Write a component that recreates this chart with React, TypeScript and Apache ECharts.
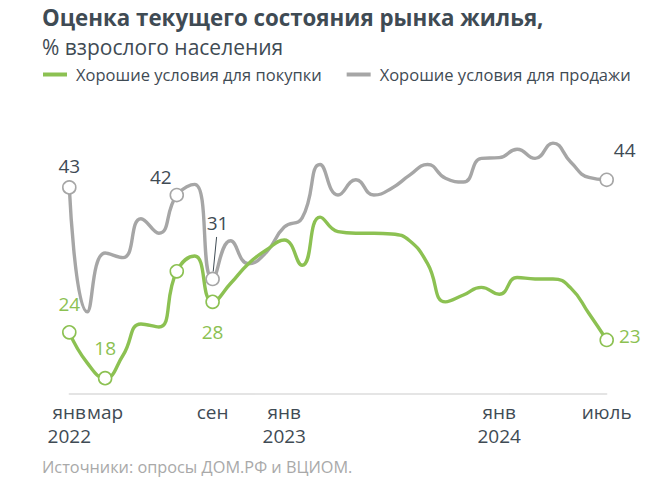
import React, { useEffect, useRef } from "react";
import * as echarts from "echarts";

const months = [
  "2022-01", "2022-02", "2022-03", "2022-04", "2022-05", "2022-06", "2022-07", "2022-08",
  "2022-09", "2022-10", "2022-11", "2022-12", "2023-01", "2023-02", "2023-03", "2023-04",
  "2023-05", "2023-06", "2023-07", "2023-08", "2023-09", "2023-10", "2023-11", "2023-12",
  "2024-01", "2024-02", "2024-03", "2024-04", "2024-05", "2024-06", "2024-07",
];

const tickLabels: Record<string, string> = {
  "2022-01": "янв\n2022",
  "2022-03": "мар",
  "2022-09": "сен",
  "2023-01": "янв\n2023",
  "2024-01": "янв\n2024",
  "2024-07": "июль",
};

const buyName = "Хорошие условия для покупки";
const sellName = "Хорошие условия для продажи";

const buyValues = [
  24, 20, 18, 21.0, 25.1, 24.7, 32, 34, 28, 30.4, 33.0, 34.8, 36.1, 32.8, 39.1, 37.2,
  37.0, 37.0, 36.9, 36.0, 33.0, 28.0, 28.9, 29.9, 29.0, 31.2, 31.0, 31.0, 29.8, 26.5, 23,
];

const sellValues = [
  43, 26.7, 34.4, 33.8, 38.9, 37.0, 42, 43.4, 31, 36, 33, 34.5, 37.8, 39, 46, 42,
  44, 42, 42.9, 44.6, 46, 44.2, 43.7, 46.8, 46.9, 48, 46.8, 48.8, 46.3, 44.3, 44,
];

// months with markers and labelled values
const buyMarked = ["2022-01", "2022-03", "2022-07", "2022-09", "2024-07"];
const buyLabelled = ["2022-01", "2022-03", "2022-09", "2024-07"];
const sellMarked = ["2022-01", "2022-07", "2022-09", "2024-07"];
const sellLabelled = ["2022-01", "2022-07", "2022-09", "2024-07"];

const GREEN = "#8cc152";
const GRAY = "#a6a6a6";
const DARK = "#3f4b54";
const FONT = "'Open Sans', 'Noto Sans', sans-serif";

const labelPlacement: Record<string, any> = {
  "buy-2022-01": { position: "top", offset: [0, -7] },
  "buy-2022-03": { position: "top", offset: [0, -8] },
  "buy-2022-09": { position: "bottom", offset: [0, 8] },
  "buy-2024-07": { position: "right", offset: [0, -4] },
  "sell-2022-01": { position: "top", offset: [0, 0] },
  "sell-2022-07": { position: "top", offset: [-16, 4] },
  "sell-2022-09": { position: "top", offset: [5, -34] },
  "sell-2024-07": { position: "top", offset: [18, -8] },
};

function buildData(key: string, values: number[], marked: string[], labelled: string[], color: string, labelColor: string) {
  return values.map((v, i) => {
    const m = months[i];
    if (!marked.includes(m)) return { value: v, symbol: "none" };
    const item: any = {
      value: v,
      symbol: "circle",
      symbolSize: 13,
      itemStyle: { color: "#ffffff", borderColor: color, borderWidth: 1.6 },
    };
    if (labelled.includes(m)) {
      const pl = labelPlacement[key + "-" + m] || { position: "top", offset: [0, 0] };
      item.label = {
        show: true,
        position: pl.position,
        offset: pl.offset,
        distance: 5,
        formatter: String(Math.round(v)),
        color: labelColor,
        fontSize: 19,
        fontFamily: FONT,
      };
    }
    return item;
  });
}

export default function App() {
  const ref = useRef<HTMLDivElement>(null);
  useEffect(() => {
    if (!ref.current) return;
    const chart = echarts.init(ref.current, null, { renderer: "svg" });
    chart.setOption({
      animation: false,
      backgroundColor: "#ffffff",
      textStyle: { fontFamily: FONT },
      title: {
        text: "Оценка текущего состояния рынка жилья,",
        subtext: "% взрослого населения",
        left: 42,
        top: 6,
        padding: 0,
        itemGap: 8,
        textStyle: { fontSize: 22.3, fontWeight: "bold", color: DARK, fontFamily: FONT },
        subtextStyle: { fontSize: 21, color: DARK, fontFamily: FONT },
      },
      legend: {
        data: [buyName, sellName],
        left: 43,
        top: 66,
        padding: 0,
        icon: "rect",
        itemWidth: 24,
        itemHeight: 4,
        itemGap: 25,
        textStyle: { fontSize: 16.5, color: DARK, fontFamily: FONT, padding: [0, 0, 0, 4] },
      },
      grid: { left: 69.3, right: 51.3, top: 134, bottom: 98.6, containLabel: false },
      xAxis: {
        type: "category",
        data: months,
        boundaryGap: false,
        axisLine: { show: true, lineStyle: { color: "#dcdcdc", width: 1.5 } },
        axisTick: { show: false },
        splitLine: { show: false },
        axisLabel: {
          interval: 0,
          formatter: (v: string) => tickLabels[v] ?? "",
          hideOverlap: false,
          color: DARK,
          fontSize: 19,
          lineHeight: 24,
          margin: 7,
          fontFamily: FONT,
        },
      },
      yAxis: {
        type: "value",
        min: 16,
        max: 50,
        show: false,
        splitLine: { show: false },
      },
      series: [
        {
          name: sellName,
          type: "line",
          color: GRAY,
          smooth: 0.5,
          symbol: "none",
          showAllSymbol: true,
          lineStyle: { color: GRAY, width: 3.4 },
          data: buildData("sell", sellValues, sellMarked, sellLabelled, GRAY, DARK),
          z: 2,
        },
        {
          name: buyName,
          type: "line",
          color: GREEN,
          smooth: 0.5,
          symbol: "none",
          showAllSymbol: true,
          lineStyle: { color: GREEN, width: 3.4 },
          data: buildData("buy", buyValues, buyMarked, buyLabelled, GREEN, GREEN),
          z: 3,
        },
      ],
    });
    const idx = months.indexOf("2022-09");
    const p = chart.convertToPixel({ xAxisIndex: 0, yAxisIndex: 0 }, [idx, sellValues[idx]]) as number[];
    chart.setOption({
      graphic: [
        {
          type: "line",
          shape: { x1: p[0] + 0.6, y1: p[1] - 7.5, x2: p[0] + 4, y2: p[1] - 42 },
          style: { stroke: DARK, lineWidth: 1 },
          z: 10,
        },
        {
          type: "text",
          left: 42,
          top: 459,
          style: { text: "Источники: опросы ДОМ.РФ и ВЦИОМ.", fill: "#a9a9a9", fontSize: 16.3, fontFamily: FONT },
        },
      ],
    });
    return () => chart.dispose();
  }, []);
  return <div ref={ref} style={{ position: "absolute", left: 0, top: 0, width: 658, height: 492 }} />;
}
